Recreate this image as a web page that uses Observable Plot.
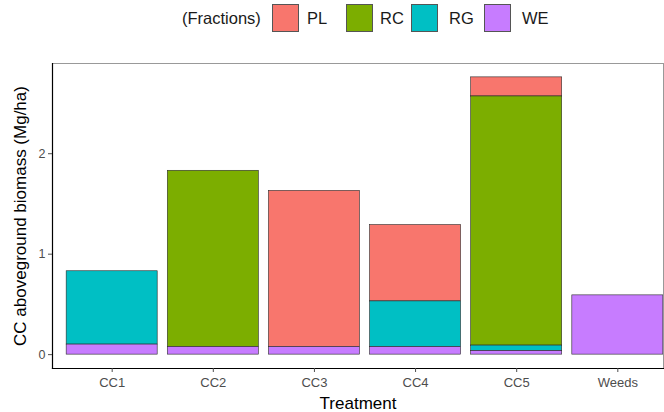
<!DOCTYPE html>
<html>
<head>
<meta charset="utf-8">
<script src="https://cdn.jsdelivr.net/npm/d3@7"></script>
<script src="https://cdn.jsdelivr.net/npm/@observablehq/plot@0.6"></script>
<style>
  html, body { margin: 0; padding: 0; background: #fff; }
  body { width: 664px; height: 412px; overflow: hidden; font-family: "Liberation Sans", Arial, sans-serif; }
  #legend { position: relative; height: 45px; }
  #legend span { position: absolute; font-size: 16.5px; color: #1a1a1a; line-height: 1; top: 10px; }
  #legend i { position: absolute; top: 4px; width: 27px; height: 28px; border: 1px solid #555; box-sizing: border-box; }
</style>
</head>
<body>
<div id="legend"></div>
<div id="chart"></div>
<script>
const treatments = ["CC1", "CC2", "CC3", "CC4", "CC5", "Weeds"];
const fractions = ["PL", "RC", "RG", "WE"];
const colors = ["#F8766D", "#7CAE00", "#00BFC4", "#C77CFF"];
const stackOrder = ["WE", "RG", "RC", "PL"];
const PL = [0, 0, 1.555, 0.76, 0.19, 0];
const RC = [0, 1.755, 0, 0, 2.48, 0];
const RG = [0.73, 0, 0, 0.455, 0.055, 0];
const WE = [0.10, 0.075, 0.075, 0.075, 0.035, 0.59];
const yTicks = [0, 1, 2];
const yDomain = [-0.138, 2.898];
const legendTitle = "(Fractions)";
const xTitle = "Treatment";
const yTitle = "CC aboveground biomass (Mg/ha)";

const series = {PL, RC, RG, WE};
const data = [];
fractions.forEach(f => treatments.forEach((t, i) => {
  if (series[f][i] > 0) data.push({Treatment: t, fraction: f, value: series[f][i]});
}));

// legend (HTML, above the SVG)
const legend = document.getElementById("legend");
const pos = [
  {sw: 272, tx: 307},
  {sw: 346, tx: 380},
  {sw: 411, tx: 449},
  {sw: 484, tx: 522}
];
const t = document.createElement("span");
t.textContent = legendTitle; t.style.left = "182px";
legend.appendChild(t);
fractions.forEach((f, i) => {
  const sw = document.createElement("i");
  sw.style.left = pos[i].sw + "px";
  sw.style.background = colors[i];
  legend.appendChild(sw);
  const s = document.createElement("span");
  s.textContent = f; s.style.left = pos[i].tx + "px";
  legend.appendChild(s);
});

const chart = Plot.plot({
  width: 664,
  height: 367,
  marginTop: 18,
  marginBottom: 44,
  marginLeft: 52,
  marginRight: 1,
  style: {fontFamily: "Liberation Sans, Arial, sans-serif", background: "#fff"},
  x: {domain: treatments, range: [51, 678], round: false, paddingInner: 0.1, paddingOuter: 0.15, align: 0.5, label: null},
  y: {domain: yDomain, label: null},
  color: {domain: fractions, range: colors},
  marks: [
    Plot.barY(data, {
      x: "Treatment", y: "value", fill: "fraction",
      order: stackOrder, stroke: "#2a2a2a", strokeWidth: 0.6
    }),
    Plot.frame({stroke: "#999", strokeWidth: 1}),
    Plot.frame({anchor: "left", stroke: "#000", strokeWidth: 1.2}),
    Plot.frame({anchor: "bottom", stroke: "#000", strokeWidth: 1.2}),
    Plot.axisY({ticks: yTicks, tickSize: 4, tickPadding: 3, fontSize: 12.5, color: "#4d4d4d", label: null, tickFormat: d3.format("d")}),
    Plot.axisX({tickSize: 4, tickPadding: 5, fontSize: 13, color: "#4d4d4d", label: null}),
    Plot.text([xTitle], {text: d => d, frameAnchor: "bottom", dy: 35, fontSize: 17, fill: "#000", lineAnchor: "middle"}),
    Plot.text([yTitle], {text: d => d, frameAnchor: "left", dx: -32, rotate: -90, textAnchor: "middle", lineAnchor: "middle", fontSize: 17, fill: "#000"})
  ]
});
document.getElementById("chart").appendChild(chart);
</script>
</body>
</html>
